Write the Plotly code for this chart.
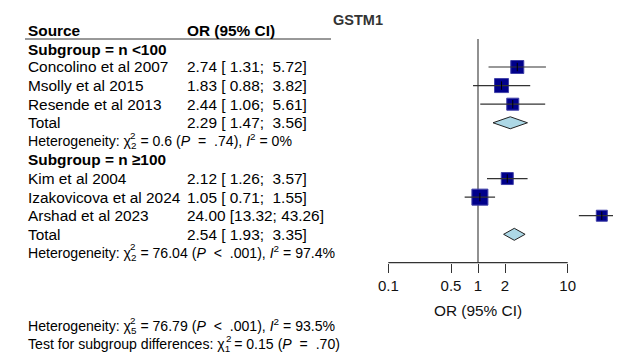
import math
import plotly.graph_objects as go

# ---------------- data ----------------
chart_title = "GSTM1"
header_source = "Source"
header_or = "OR (95% CI)"
axis_label = "OR (95% CI)"

sub1_label = "Subgroup = n &lt;100"
studies1 = ["Concolino et al 2007", "Msolly et al 2015", "Resende et al 2013"]
or1 = [2.74, 1.83, 2.44]
lo1 = [1.31, 0.88, 1.06]
hi1 = [5.72, 3.82, 5.61]
total1 = [2.29, 1.47, 3.56]          # est, low, high
het1 = ["2", "0.6", "=", ".74", "0%"]  # df, chi2, P-op, P, I2

sub2_label = "Subgroup = n ≥100"
studies2 = ["Kim et al 2004", "Izakovicova et al 2024", "Arshad et al 2023"]
or2 = [2.12, 1.05, 24.00]
lo2 = [1.26, 0.71, 13.32]
hi2 = [3.57, 1.55, 43.26]
total2 = [2.54, 1.93, 3.35]
het2 = ["2", "76.04", "&lt;", ".001", "97.4%"]

het_all = ["5", "76.79", "&lt;", ".001", "93.5%"]
test_sub = ["1", "0.15", "=", ".70"]

tick_vals = [0.1, 0.5, 1, 2, 10]
tick_text = ["0.1", "0.5", "1", "2", "10"]

# ---------------- styles / layout ----------------
OFF = 8                      # page body margin
W, H = 621 - OFF, 356 - OFF
FONT = "Liberation Sans, Arial, sans-serif"
FS = 15.4
FS_HET = 14.1
ROW_PX0 = 67.0   # page pixel of row 2
ROW_H = 18.59
Y_TOP_PX, Y_BOT_PX = 39.0, 262.7
X_LEFT_PX, X_ONE_PX, PX_DEC = 340.0, 478.0, 89.7
TEXT_X1, TEXT_X2 = 26.0, 185.0
sizes1 = [13, 14, 12]
sizes2 = [12, 16, 11]
SQ_COL = "#00008B"
DIA_FILL = "#ADD8E6"
DIA_HALF_PX = 6.0
NB = "\u00a0"


def row_px(r):
    return ROW_PX0 + (r - 2) * ROW_H


def px_row(px):
    return 2 + (px - ROW_PX0) / ROW_H


def px_y(px):
    return 1 - (px - OFF) / H


def px_x(px):
    return (px - OFF) / W


def fmt_ci(e, l, h):
    s = f"{e:.2f} [{l:5.2f}; {h:5.2f}]"
    return s.replace(" ", NB)


fig = go.Figure()

rows_st1 = [2, 3, 4]
row_tot1 = 5
row_het1 = 6
row_sub2 = 7
rows_st2 = [8, 9, 10]
row_tot2 = 11
row_het2 = 12

all_or = or1 + or2
all_lo = lo1 + lo2
all_hi = hi1 + hi2
all_rows = rows_st1 + rows_st2
all_sizes = sizes1 + sizes2

# squares
fig.add_trace(go.Scatter(
    x=all_or, y=all_rows, mode="markers", hoverinfo="skip",
    marker=dict(symbol="square", size=all_sizes, color=SQ_COL, opacity=1,
                line=dict(color="#4040a8", width=1)),
    showlegend=False))

# CI lines
xs, ys = [], []
for l, h, r in zip(all_lo, all_hi, all_rows):
    xs += [l, h, None]
    ys += [r, r, None]
fig.add_trace(go.Scatter(x=xs, y=ys, mode="lines", hoverinfo="skip",
                         line=dict(color="#333333", width=1.2), showlegend=False))
# estimate ticks
fig.add_trace(go.Scatter(
    x=all_or, y=all_rows, mode="markers", hoverinfo="skip",
    marker=dict(symbol="line-ns", size=6, opacity=1, line=dict(color="#000000", width=1)),
    showlegend=False))

# diamonds
dh = DIA_HALF_PX / ROW_H
for tot, r in [(total1, row_tot1), (total2, row_tot2)]:
    e, l, h = tot
    fig.add_trace(go.Scatter(
        x=[l, e, h, e, l], y=[r, r - dh, r, r + dh, r], mode="lines",
        fill="toself", fillcolor=DIA_FILL, hoverinfo="skip",
        line=dict(color="#222222", width=1), showlegend=False))

# ---------- text table ----------
ann = []


def add_text(x_px, y_px, text, size=FS, bold=False):
    t = f"<b>{text}</b>" if bold else text
    ann.append(dict(xref="paper", yref="paper", x=px_x(x_px), y=px_y(y_px), text=t,
                    showarrow=False, xanchor="left", yanchor="middle", align="left",
                    font=dict(family=FONT, size=size, color="#000000")))


def het_str(prefix, vals, with_i2=True):
    df, chi, op, p = vals[0], vals[1], vals[2], vals[3]
    txt = f"{prefix}χ<sub>{df}</sub> = {chi} (<i>P</i>{NB}{NB}{op}{NB}{NB}{p})"
    if with_i2:
        txt += f", <i>I</i><sup>2</sup>{NB}= {vals[4]}"
    return txt


def add_sup(y_px, x_px):
    ann.append(dict(xref="paper", yref="paper", x=px_x(x_px), y=px_y(y_px), text="2",
                    showarrow=False, xanchor="left", yanchor="middle", yshift=6,
                    borderpad=0,
                    font=dict(family=FONT, size=FS_HET * 0.7, color="#000000")))


add_text(TEXT_X1, 30.5, header_source, bold=True)
add_text(TEXT_X2, 30.5, header_or, bold=True)
add_text(TEXT_X1, 49.3, sub1_label, bold=True)
for s, e, l, h, r in zip(studies1, or1, lo1, hi1, rows_st1):
    add_text(TEXT_X1, row_px(r), s)
    add_text(TEXT_X2, row_px(r), fmt_ci(e, l, h))
add_text(TEXT_X1, row_px(row_tot1), "Total")
add_text(TEXT_X2, row_px(row_tot1), fmt_ci(*total1))
add_text(TEXT_X1, row_px(row_het1), het_str("Heterogeneity: ", het1), size=FS_HET)
add_text(TEXT_X1, row_px(row_sub2), sub2_label, bold=True)
for s, e, l, h, r in zip(studies2, or2, lo2, hi2, rows_st2):
    add_text(TEXT_X1, row_px(r), s)
    add_text(TEXT_X2, row_px(r), fmt_ci(e, l, h))
add_text(TEXT_X1, row_px(row_tot2), "Total")
add_text(TEXT_X2, row_px(row_tot2), fmt_ci(*total2))
add_text(TEXT_X1, row_px(row_het2), het_str("Heterogeneity: ", het2), size=FS_HET)

# overall block: two lines in one text
Y_ALL1, Y_ALL2 = 326.7, 344.0
add_text(TEXT_X1, (Y_ALL1 + Y_ALL2) / 2,
         het_str("Heterogeneity: ", het_all) + "<br>" +
         het_str("Test for subgroup differences: ", test_sub, with_i2=False),
         size=FS_HET)

chi_x_het = TEXT_X1 + 6.781 * FS_HET + 0.52 * FS_HET
chi_x_test = TEXT_X1 + 13.562 * FS_HET + 0.52 * FS_HET
add_sup(row_px(row_het1), chi_x_het)
add_sup(row_px(row_het2), chi_x_het)
add_sup(Y_ALL1, chi_x_het)
add_sup(Y_ALL2, chi_x_test)

# chart title
ann.append(dict(xref="paper", yref="paper", x=px_x(331), y=px_y(20), text=f"<b>{chart_title}</b>",
                showarrow=False, xanchor="left", yanchor="middle",
                font=dict(family=FONT, size=14.5, color="#333333")))
# axis title
ann.append(dict(xref="x", yref="paper", x=math.log10(1), y=px_y(310), text=axis_label,
                showarrow=False, xanchor="center", yanchor="middle",
                font=dict(family=FONT, size=FS, color="#111111")))

shapes = [
    dict(type="line", xref="paper", yref="paper", x0=px_x(25), x1=px_x(331),
         y0=px_y(39), y1=px_y(39), line=dict(color="#333333", width=1)),
    dict(type="line", xref="x", yref="y domain", x0=1, x1=1, y0=0, y1=1,
         line=dict(color="#555555", width=1.3), layer="below"),
    dict(type="line", xref="x", yref="y domain", x0=tick_vals[0], x1=tick_vals[-1], y0=0, y1=0,
         line=dict(color="#333333", width=1.3)),
]

x_lo = (X_LEFT_PX - X_ONE_PX) / PX_DEC
x_hi = (621 - X_ONE_PX) / PX_DEC

fig.update_layout(
    width=W, height=H, margin=dict(l=0, r=0, t=0, b=0),
    paper_bgcolor="white", plot_bgcolor="rgba(0,0,0,0)",
    xaxis=dict(type="log", domain=[px_x(X_LEFT_PX), 1], range=[x_lo, x_hi],
               tickvals=tick_vals, ticktext=tick_text, ticks="outside", ticklen=9,
               tickwidth=1.3, tickcolor="#333333", showline=False, showgrid=False,
               zeroline=False, tickfont=dict(family=FONT, size=15, color="#111111")),
    yaxis=dict(domain=[px_y(Y_BOT_PX), px_y(Y_TOP_PX)],
               range=[px_row(Y_BOT_PX), px_row(Y_TOP_PX)], visible=False),
    annotations=ann, shapes=shapes, showlegend=False,
)

fig.write_html("out.html")
